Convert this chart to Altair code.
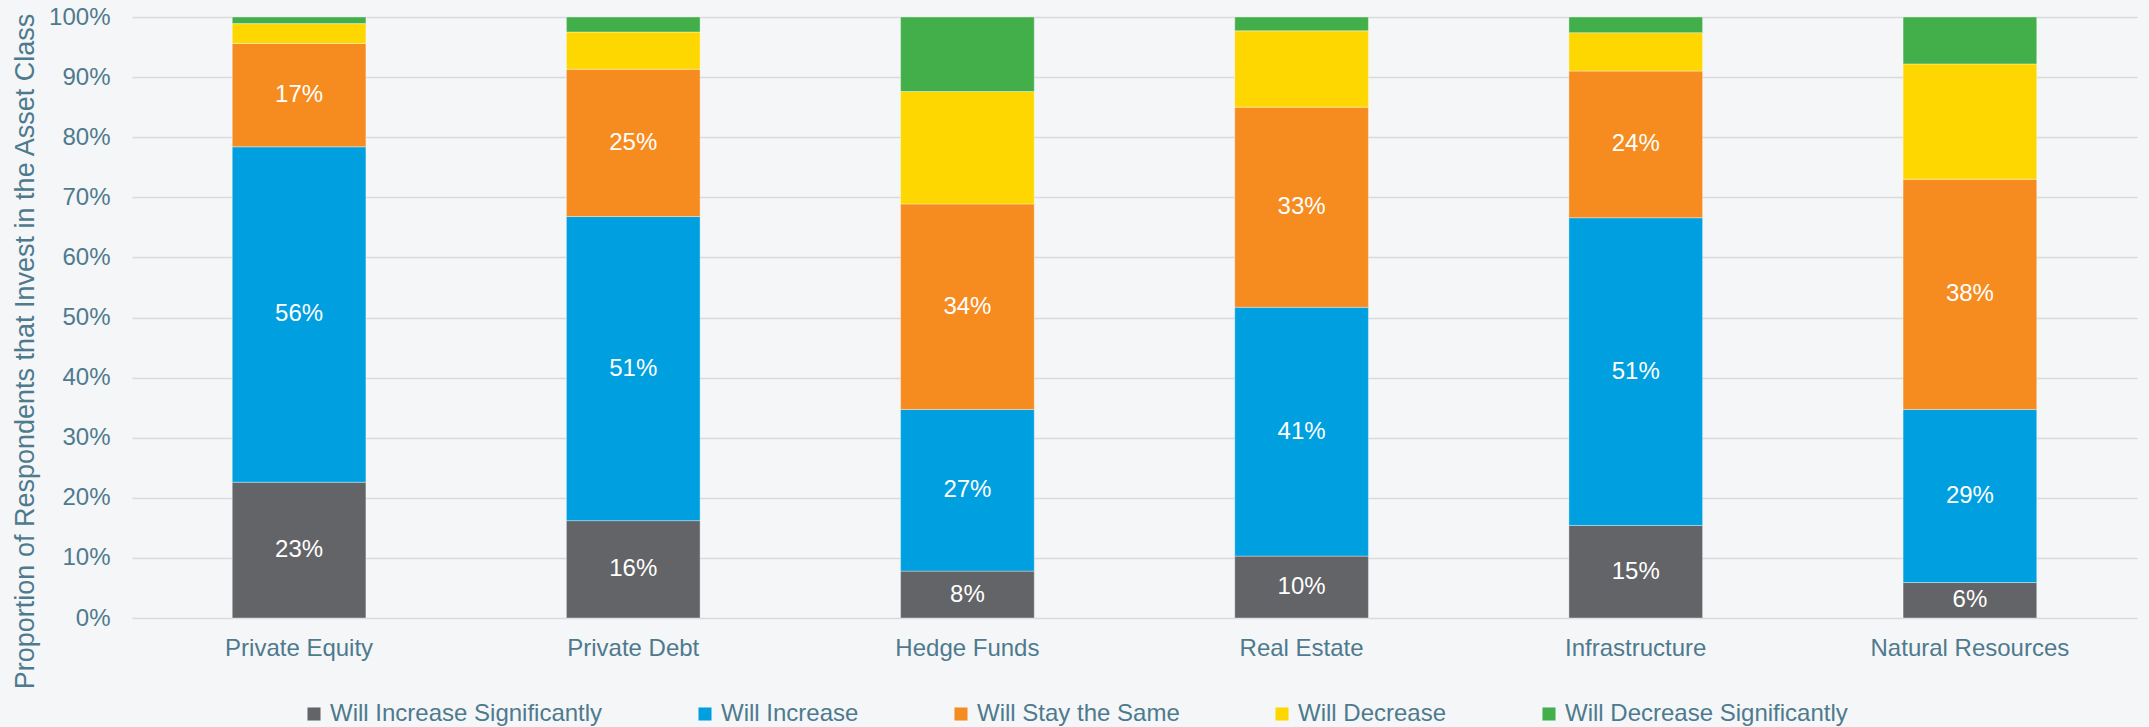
import altair as alt
import pandas as pd

categories = ["Private Equity", "Private Debt", "Hedge Funds", "Real Estate", "Infrastructure", "Natural Resources"]
series = ["Will Increase Significantly", "Will Increase", "Will Stay the Same", "Will Decrease", "Will Decrease Significantly"]
colors = ["#636467", "#009FDF", "#F68B1F", "#FFD700", "#43AF4B"]

inc_sig = [22.6, 16.2, 7.8, 10.3, 15.4, 5.9]
inc = [55.8, 50.6, 26.9, 41.4, 51.2, 28.8]
same = [17.2, 24.5, 34.2, 33.3, 24.4, 38.3]
dec = [3.3, 6.2, 18.7, 12.7, 6.4, 19.2]
dec_sig = [1.1, 2.5, 12.4, 2.3, 2.6, 7.8]

values = [inc_sig, inc, same, dec, dec_sig]

rows = []
for si, (s, vals) in enumerate(zip(series, values)):
    for c, v in zip(categories, vals):
        rows.append({"category": c, "series": s, "order": si, "value": v})
df = pd.DataFrame(rows)

text_color = "#4E7A8E"
font = "Liberation Sans"

base = alt.Chart(df).transform_stack(
    stack="value", groupby=["category"], as_=["y0", "y1"], sort=[alt.SortField("order", order="ascending")]
).transform_calculate(
    mid="(datum.y0 + datum.y1) / 2",
    label="format(round(datum.value), 'd') + '%'"
)

x_enc = alt.X("category:N", sort=categories, title=None,
              scale=alt.Scale(paddingInner=0.6, paddingOuter=0.3),
              axis=alt.Axis(labelAngle=0, labelFontSize=24, labelColor=text_color, labelFont=font,
                            labelPadding=18, labelLimit=400, ticks=False, domain=False, grid=False))

bars = base.mark_bar(stroke="#ffffff", strokeWidth=0.6, strokeOpacity=0.6).encode(
    x=x_enc,
    y=alt.Y("y0:Q", scale=alt.Scale(domain=[0, 100]),
            title="Proportion of Respondents that Invest in the Asset Class",
            axis=alt.Axis(values=list(range(0, 101, 10)), labelExpr="datum.value + '%'",
                          labelFontSize=24, labelColor=text_color, labelFont=font, labelPadding=22,
                          ticks=False, domain=False, grid=True, gridColor="#D9DADC", gridWidth=1.5,
                          titleFontSize=27, titleFont=font, titleColor=text_color, titleFontWeight="normal",
                          titleX=-107, titleY=334, titleAngle=-90, titleAlign="center", titleBaseline="middle")),
    y2="y1:Q",
    color=alt.Color("series:N", sort=series,
                    scale=alt.Scale(domain=series, range=colors),
                    legend=alt.Legend(title=None, orient="none", direction="horizontal",
                                      legendX=170, legendY=685, symbolType="square", symbolSize=170,
                                      symbolStrokeWidth=0, labelFontSize=24, labelFont=font,
                                      labelColor=text_color, columnPadding=90, labelOffset=4,
                                      labelLimit=400)),
    order=alt.Order("order:Q", sort="ascending"),
)

labels = base.transform_filter("datum.order < 3").mark_text(
    color="white", fontSize=24, font=font
).encode(
    x=alt.X("category:N", sort=categories),
    y=alt.Y("mid:Q"),
    text="label:N",
)

chart = alt.layer(bars, labels).properties(
    width=2005, height=601,
    autosize=alt.AutoSizeParams(type="none"),
    padding={"left": 132, "top": 17, "right": 12, "bottom": 109},
    background="#F5F6F8",
).configure_view(stroke=None)

chart.save("out.html", embed_options={"renderer": "svg", "actions": False})
